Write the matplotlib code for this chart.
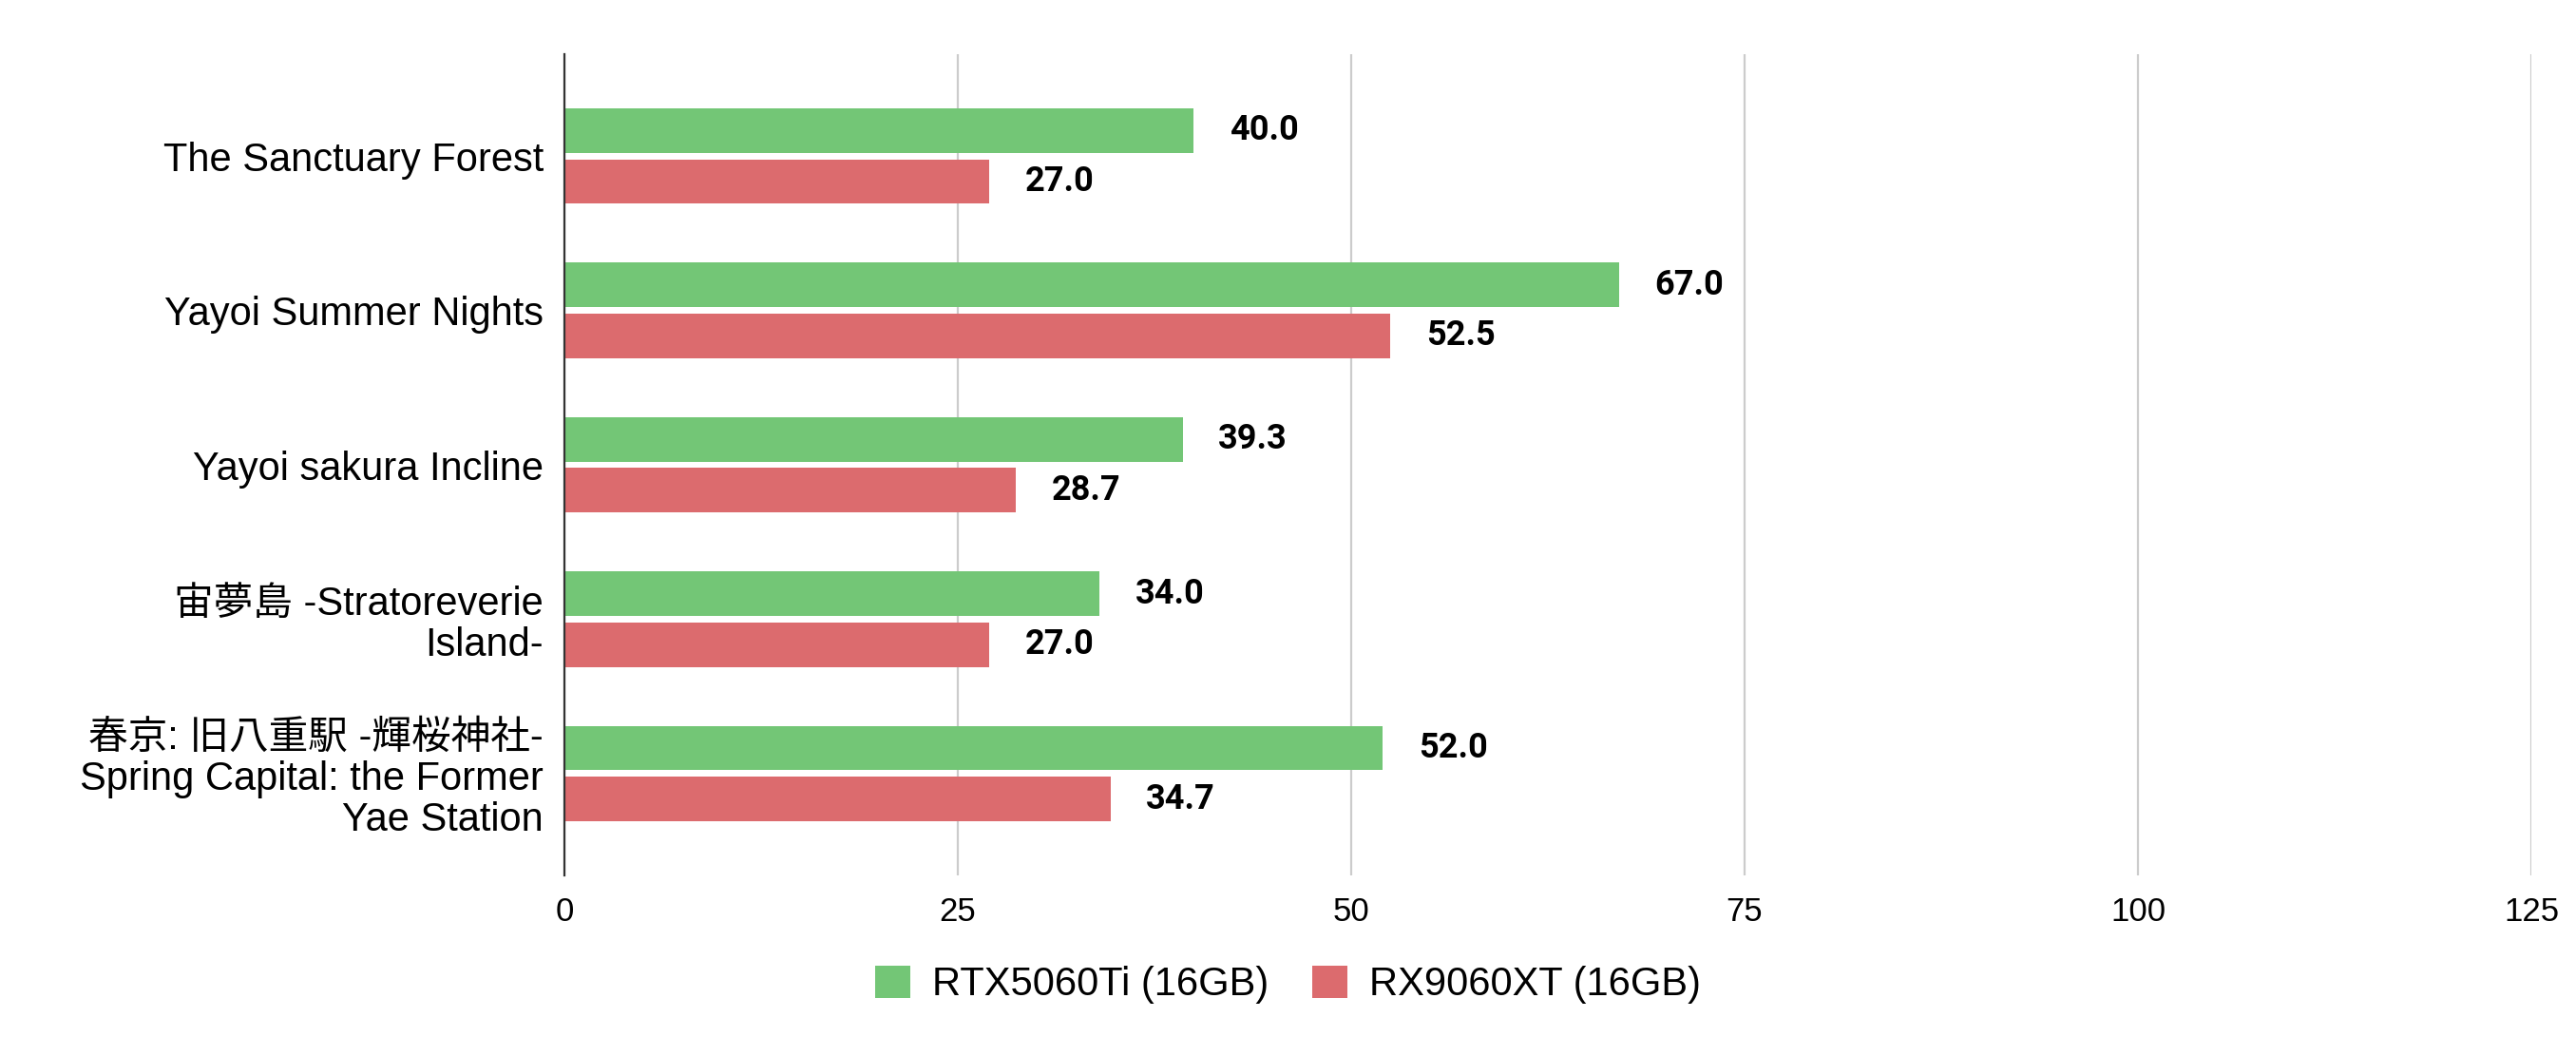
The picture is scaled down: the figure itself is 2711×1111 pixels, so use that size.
import matplotlib.pyplot as plt
import numpy as np
from matplotlib.patches import Patch

# データ
categories = [
    'The Sanctuary Forest',
    'Yayoi Summer Nights',
    'Yayoi sakura Incline',
    '宙夢島 -Stratoreverie\nIsland-',
    '春京: 旧八重駅 -輝桜神社-\nSpring Capital: the Former\nYae Station',
]
rtx5060ti = [40.0, 67.0, 39.3, 34.0, 52.0]
rx9060xt = [27.0, 52.5, 28.7, 27.0, 34.7]
series_names = ['RTX5060Ti (16GB)', 'RX9060XT (16GB)']
xticks = [0, 25, 50, 75, 100, 125]

green = '#73c676'
red = '#dc6b6e'
label_font = ['Liberation Sans', 'Noto Sans CJK JP', 'DejaVu Sans']

plt.rcParams['font.family'] = label_font

fig = plt.figure(figsize=(27.11, 11.11), dpi=100, facecolor='white')
ax = fig.add_axes([0.2191, 0.171, 0.7636, 0.7777])

y = np.arange(len(categories))
h = 0.287
off = 0.165
b1 = ax.barh(y - off, rtx5060ti, height=h, color=green, zorder=3)
b2 = ax.barh(y + off, rx9060xt, height=h, color=red, zorder=3)

# 数値ラベル
for bars, vals in ((b1, rtx5060ti), (b2, rx9060xt)):
    for bar, v in zip(bars, vals):
        ax.annotate('%.1f' % v, xy=(bar.get_width(), bar.get_y() + bar.get_height() / 2),
                    xytext=(27, 0), textcoords='offset points', va='center', ha='left',
                    fontsize=26, fontweight='bold', family='Roboto', color='black')

ax.set_xlim(0, 125)
ax.set_ylim(len(categories) - 1 + 0.66, -0.66)
ax.set_xticks(xticks)
ax.set_xticklabels([str(t) for t in xticks], fontsize=25)
ax.set_yticks(y)
ax.set_yticklabels(categories, fontsize=30, family=label_font, linespacing=1.1)
ax.tick_params(axis='both', length=0)
ax.tick_params(axis='x', pad=16)
ax.tick_params(axis='y', pad=16)

ax.grid(axis='x', color='#cccccc', linewidth=1.6, zorder=0)
ax.grid(axis='y', visible=False)
for s in ['top', 'right', 'bottom']:
    ax.spines[s].set_visible(False)
ax.spines['left'].set_color('#333333')
ax.spines['left'].set_linewidth(1.6)
ax.spines['left'].set_zorder(4)

handles = [Patch(facecolor=green, edgecolor='none', label=series_names[0]),
           Patch(facecolor=red, edgecolor='none', label=series_names[1])]
fig.legend(handles=handles, loc='center', bbox_to_anchor=(0.5, 0.0675), ncol=2,
           frameon=False, fontsize=30, handlelength=0.88, handleheight=0.88,
           handletextpad=0.55, columnspacing=1.1)

fig.savefig('out.png', dpi=100, facecolor='white')
